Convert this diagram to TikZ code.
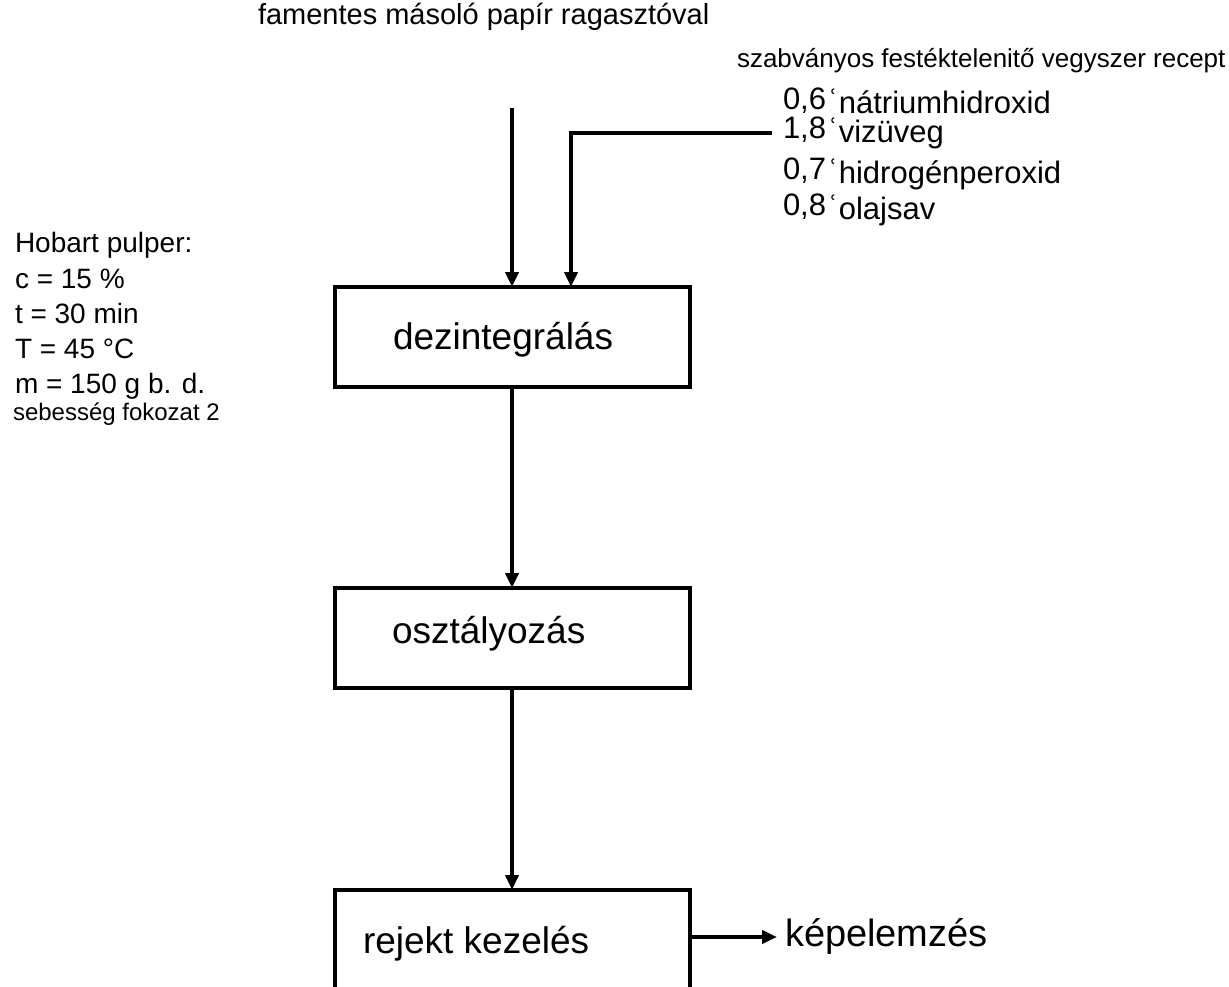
\documentclass[tikz,border=0pt]{standalone}
\usepackage{fontspec}
\setmainfont{Liberation Sans}
\newfontfamily\djv{DejaVu Sans}
\usetikzlibrary{arrows.meta}
\newcommand{\hm}{{\djv\fontsize{22}{22}\selectfont\raisebox{4pt}{ʿ}}}
\newcommand{\chem}[2]{#1\kern4pt\hm\kern2pt\raisebox{-4pt}{#2}}
\tikzset{
  fs/.style={font=\fontsize{#1}{#1}\selectfont},
  txt/.style={anchor=base west, inner sep=0pt, outer sep=0pt},
  procbox/.style={draw, line width=4pt, minimum width=355pt, minimum height=100pt, inner sep=0pt, outer sep=0pt},
  flow/.style={line width=4pt, -{Triangle[length=15pt,width=13pt]}}
}
\begin{document}
\begin{tikzpicture}[x=1pt,y=-1pt]
\useasboundingbox (0,0) rectangle (1229,987);
\clip (0,0) rectangle (1229,987);
% top input
\node[txt, fs=29] (paper) at (258,25) {famentes másoló papír ragasztóval};
\coordinate (pin) at (512,108);
% chemicals
\node[txt, fs=26] (recipe) at (737,68) {szabványos festéktelenitő vegyszer recept};
\node[txt, fs=31] (c1) at (783,110) {\chem{0,6}{nátriumhidroxid}};
\node[txt, fs=31] (c2) at (783,139) {\chem{1,8}{vizüveg}};
\node[txt, fs=31] (c3) at (783,180) {\chem{0,7}{hidrogénperoxid}};
\node[txt, fs=31] (c4) at (783,216) {\chem{0,8}{olajsav}};
\coordinate (cin) at (772,133);
\coordinate (corner) at (571,133);
% left parameters
\node[txt, fs=28] (h1) at (15,253) {Hobart pulper:};
\node[txt, fs=28] (h2) at (15,288) {c = 15 \%};
\node[txt, fs=28] (h3) at (15,323) {t = 30 min};
\node[txt, fs=28] (h4) at (15,358) {T = 45 °C};
\node[txt, fs=28] (h5) at (15,393) {m = 150 g b. d.};
\node[txt, fs=24] (h6) at (13,420) {sebesség fokozat 2};
% boxes
\node[procbox] (b1) at (512.5,337) {};
\node[procbox] (b2) at (512.5,638) {};
\node[procbox] (b3) at (512.5,940) {};
\node[txt, fs=37] (t1) at (393,349) {dezintegrálás};
\node[txt, fs=37] (t2) at (392,643) {osztályozás};
\node[txt, fs=37] (t3) at (363,953) {rejekt kezelés};
\coordinate (out) at (777,937);
\node[txt, fs=38] (res) at (785,946) {képelemzés};
% connectors
\draw[flow] (pin) -- (pin |- b1.north);
\draw[flow] (cin) -- (corner) -- (corner |- b1.north);
\draw[flow] (b1.south -| pin) -- (b2.north -| pin);
\draw[flow] (b2.south -| pin) -- (b3.north -| pin);
\draw[flow] (b3.east |- out) -- (out);
\end{tikzpicture}
\end{document}
